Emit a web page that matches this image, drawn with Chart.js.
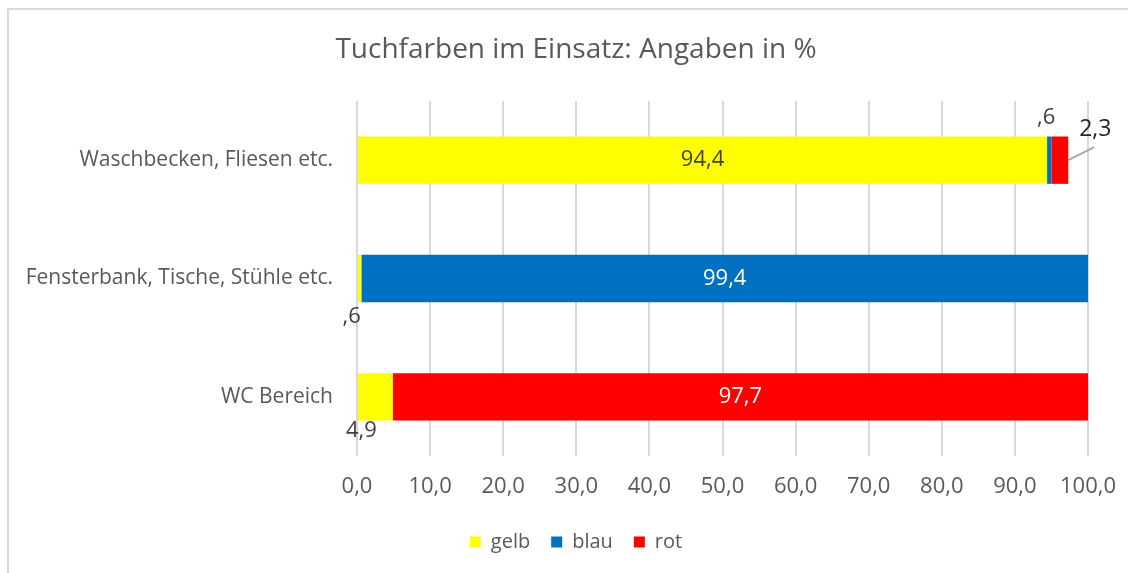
<!DOCTYPE html>
<html lang="de">
<head>
<meta charset="utf-8">
<title>Tuchfarben im Einsatz</title>
<script src="https://cdn.jsdelivr.net/npm/chart.js@4.4.1/dist/chart.umd.min.js"></script>
<style>
  html, body { margin: 0; padding: 0; background: #fff; }
  #wrap { position: relative; width: 1128px; height: 573px; overflow: hidden; }
  #wrap canvas { position: absolute; left: 0; top: 0; }
  /* Rahmen nur oben und links sichtbar (Ausschnitt) */
  #rahmen { position: absolute; left: 7px; top: 8px; right: -10px; bottom: -10px;
            border-top: 2px solid #d9d9d9; border-left: 2px solid #d9d9d9; pointer-events: none; }
</style>
</head>
<body>
<div id="wrap">
  <canvas id="tuchChart" width="1136" height="573"></canvas>
  <div id="rahmen"></div>
</div>
<script>
// Daten
const bereiche = ['Waschbecken, Fliesen etc.', 'Fensterbank, Tische, Stühle etc.', 'WC Bereich'];
const gelb = [94.4, 0.6, 4.9];
const blau = [0.6, 99.4, 0];
const rot  = [2.3, 0, 97.7];
const achseMin = 0;
const achseMax = 100;
const achseSchritt = 10;

const schrift = 'Open Sans';
const grau = '#595959';

// Lage der Datenbeschriftungen (wie im Original manuell verschoben)
const beschriftung = {
  gelb: [{ pos: 'center', color: '#404040' }, { pos: 'below', dx: -8, dy: 15 }, { pos: 'below', dx: -14, dy: 10 }],
  blau: [{ pos: 'above', dx: -3, dy: 19 }, { pos: 'center', color: '#ffffff' }, null],
  rot:  [{ pos: 'callout' }, null, { pos: 'center', color: '#ffffff' }]
};

function formatWert(v) {
  let s = v.toFixed(1).replace('.', ',');
  if (s.startsWith('0')) s = s.slice(1); // Excel-Format ohne führende Null
  return s;
}

const datenLabels = {
  id: 'datenLabels',
  afterDatasetsDraw(chart) {
    const ctx = chart.ctx;
    const area = chart.chartArea;
    ctx.save();
    chart.data.datasets.forEach((ds, i) => {
      const meta = chart.getDatasetMeta(i);
      const lage = beschriftung[ds.key];
      meta.data.forEach((bar, j) => {
        const wert = ds.data[j];
        const opt = lage[j];
        if (!opt || !wert) return;
        const p = bar.getProps(['x', 'base', 'y', 'height'], true);
        const links = Math.max(Math.min(p.x, p.base), area.left);
        const rechts = Math.min(Math.max(p.x, p.base), area.right);
        const mitte = (links + rechts) / 2;
        const text = formatWert(wert);
        ctx.font = '22px "' + schrift + '"';
        ctx.textAlign = 'center';
        ctx.textBaseline = 'middle';
        ctx.fillStyle = opt.color || '#404040';
        if (opt.pos === 'center') {
          ctx.fillText(text, mitte, p.y);
        } else if (opt.pos === 'above') {
          ctx.fillText(text, mitte + (opt.dx || 0), p.y - p.height / 2 - opt.dy);
        } else if (opt.pos === 'below') {
          ctx.fillText(text, mitte + (opt.dx || 0), p.y + p.height / 2 + opt.dy);
        } else if (opt.pos === 'callout') {
          ctx.strokeStyle = '#a6a6a6';
          ctx.lineWidth = 2;
          ctx.beginPath();
          ctx.moveTo(rechts, p.y);
          ctx.lineTo(rechts + 26, p.y - 13);
          ctx.stroke();
          ctx.font = '23px "' + schrift + '"';
          ctx.fillStyle = '#262626';
          ctx.fillText(text, rechts + 27, p.y - 31);
        }
      });
    });
    ctx.restore();
  }
};

const tuchChart = new Chart(document.getElementById('tuchChart'), {
  type: 'bar',
  data: {
    labels: bereiche,
    datasets: [
      { key: 'gelb', label: 'gelb', data: gelb, backgroundColor: '#ffff00' },
      { key: 'blau', label: 'blau', data: blau, backgroundColor: '#0070c0' },
      { key: 'rot',  label: 'rot',  data: rot,  backgroundColor: '#ff0000' }
    ]
  },
  options: {
    indexAxis: 'y',
    responsive: false,
    animation: false,
    devicePixelRatio: 1,
    datasets: {
      bar: { barPercentage: 0.4, categoryPercentage: 1, borderWidth: 0, clip: 0 }
    },
    layout: { padding: { left: 16, right: 0, top: 0, bottom: 11 } },
    plugins: {
      title: {
        display: true,
        text: 'Tuchfarben im Einsatz: Angaben in %',
        color: grau,
        font: { family: schrift, size: 28, weight: 'normal' },
        padding: { top: 33.2, bottom: 34.2 }
      },
      legend: {
        position: 'bottom',
        labels: {
          color: grau,
          font: { family: schrift, size: 20 },
          boxWidth: 11,
          boxHeight: 11,
          padding: 21
        }
      },
      tooltip: { enabled: false }
    },
    scales: {
      x: {
        stacked: true,
        min: achseMin,
        max: achseMax,
        ticks: {
          stepSize: achseSchritt,
          color: grau,
          padding: 17.8,
          font: { family: schrift, size: 22 },
          callback: v => v.toFixed(1).replace('.', ',')
        },
        grid: { color: '#d9d9d9', lineWidth: 2, drawTicks: false },
        border: { display: false },
        afterFit(scale) { scale.height = 55; }
      },
      y: {
        stacked: true,
        ticks: {
          color: grau,
          padding: 24,
          font: { family: schrift, size: 21 }
        },
        grid: { display: false, drawTicks: false },
        border: { display: false },
        afterFit(scale) { scale.width = 341; }
      },
      // leere Achse rechts, damit Titel und Legende wie im Original mittig sitzen
      rechts: {
        type: 'category',
        position: 'right',
        display: true,
        ticks: { display: false },
        grid: { display: false, drawTicks: false },
        border: { display: false },
        afterFit(scale) { scale.width = 48; }
      }
    }
  },
  plugins: [datenLabels]
});
</script>
</body>
</html>
